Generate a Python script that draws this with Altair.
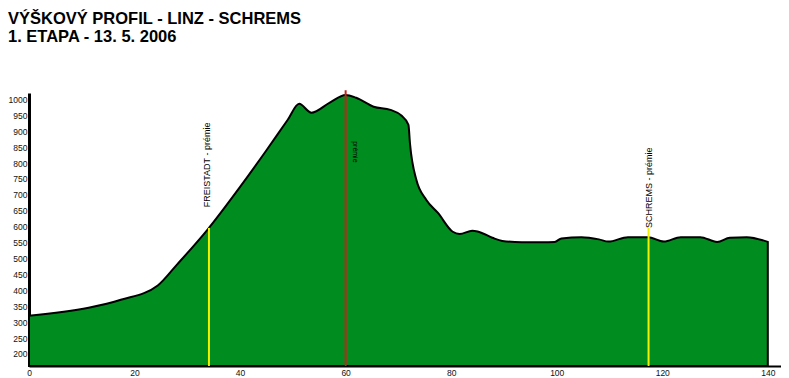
import altair as alt
import pandas as pd

# ---- data ----
title_lines = ["VÝŠKOVÝ PROFIL - LINZ - SCHREMS", "1. ETAPA - 13. 5. 2006"]

km = [0, 11.3, 17.4, 24.4, 28, 33.8, 40, 45, 49, 51.2, 53.5, 57, 60, 62, 65.3,
      68.5, 70.5, 71.9, 72.2, 73.4, 75.3, 77.5, 80.3, 81.6, 84, 85, 87.8, 89.7,
      93.4, 97.2, 99.6, 100.9, 104.7, 108, 109.8, 113.5, 117.3, 120.3, 123.5,
      127.2, 130.4, 132.8, 136, 140]
elev = [320, 345, 370, 415, 480, 590, 725, 840, 935, 986, 958, 990, 1014, 1005, 977,
        967, 950, 920, 860, 747, 684, 643, 584, 577, 587, 585, 565, 555,
        551, 551, 552, 563, 567, 560, 553, 567, 567, 553, 567,
        567, 552, 565, 567, 552]

sprint_km = [34.1, 117.4]
sprint_top = [596, 596]
sprint_labels = ["FREISTADT - prémie", "SCHREMS - prémie"]
sprint_label_km = [33.8, 117.5]
sprint_label_elev = [794, 722]

summit_km = [60]
summit_top = [1029]
summit_labels = ["prémie"]
summit_label_km = [61.7]
summit_label_elev = [835]

x_ticks = [0, 20, 40, 60, 80, 100, 120, 140]
y_ticks = [200, 250, 300, 350, 400, 450, 500, 550, 600, 650, 700, 750, 800,
           850, 900, 950, 1000]

Y_BASE = 162
Y_TOP = 1020
X_MAX = 142.5
FONT = "Liberation Sans"

profile = pd.DataFrame({"km": km, "elev": elev})
sprints = pd.DataFrame({"km": sprint_km, "top": sprint_top, "label": sprint_labels,
                        "lkm": sprint_label_km, "lelev": sprint_label_elev})
summit = pd.DataFrame({"km": summit_km, "top": summit_top, "label": summit_labels,
                       "lkm": summit_label_km, "lelev": summit_label_elev})
titles = pd.DataFrame({"t": [0]})

xs = alt.Scale(domain=[0, X_MAX], nice=False, zero=False)
ys = alt.Scale(domain=[Y_BASE, Y_TOP], nice=False, zero=False)

x_axis = alt.Axis(values=x_ticks, title=None, grid=False, ticks=False,
                  domainColor="black", domainWidth=2, labelFont=FONT,
                  labelFontSize=8.5, labelColor="#111", labelPadding=2,
                  labelFlush=False, labelOverlap=False, format="d")
y_axis = alt.Axis(values=y_ticks, title=None, grid=False, ticks=False,
                  domainColor="black", domainWidth=3, labelFont=FONT,
                  labelFontSize=8.5, labelColor="#111", labelPadding=2,
                  labelOverlap=False, labelFlush=False, format="d")


def X(field):
    return alt.X(field, scale=xs, axis=x_axis)


def Y(field):
    return alt.Y(field, scale=ys, axis=y_axis)


area = alt.Chart(profile).mark_area(
    interpolate="monotone", fill="#008c1e", stroke="black", strokeWidth=2
).encode(x=X("km:Q"), y=Y("elev:Q"), y2=alt.datum(Y_BASE))

sprint_rules = alt.Chart(sprints).mark_rule(color="#f2f200", strokeWidth=2).encode(
    x=X("km:Q"), y=Y("top:Q"), y2=alt.datum(Y_BASE)
)
summit_rule = alt.Chart(summit).mark_rule(color="#c8201a", strokeWidth=2).encode(
    x=X("km:Q"), y=Y("top:Q"), y2=alt.datum(Y_BASE)
)

sprint_text = alt.Chart(sprints).mark_text(
    angle=270, font=FONT, fontSize=9, color="black", align="center", baseline="middle"
).encode(x=X("lkm:Q"), y=Y("lelev:Q"), text="label:N")

summit_text = alt.Chart(summit).mark_text(
    angle=90, font=FONT, fontSize=7, color="black", align="center", baseline="middle"
).encode(x=X("lkm:Q"), y=Y("lelev:Q"), text="label:N")

title1 = alt.Chart(titles).mark_text(
    font=FONT, fontSize=16.5, fontWeight="bold", color="black", align="left",
    baseline="alphabetic"
).encode(x=alt.value(-21), y=alt.value(-69), text=alt.value(title_lines[0]))
title2 = alt.Chart(titles).mark_text(
    font=FONT, fontSize=16.5, fontWeight="bold", color="black", align="left",
    baseline="alphabetic"
).encode(x=alt.value(-21), y=alt.value(-51), text=alt.value(title_lines[1]))

chart = alt.layer(
    area, sprint_rules, summit_rule, sprint_text, summit_text, title1, title2
).properties(
    width=752, height=273,
    autosize=alt.AutoSizeParams(type="none"),
    padding={"left": 21, "top": 85, "right": 0, "bottom": 12},
    background="white",
).configure_view(stroke=None)

chart.save("out.html", embed_options={"renderer": "svg", "actions": False})
